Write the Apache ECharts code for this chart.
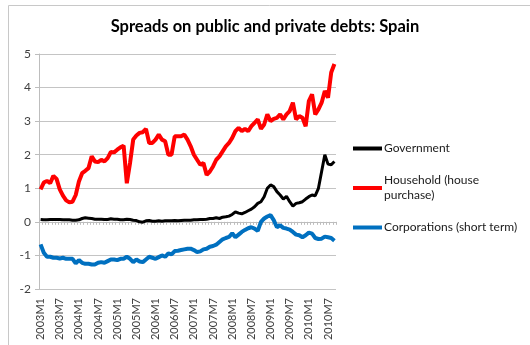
<!DOCTYPE html>
<html>
<head>
<meta charset="utf-8">
<script src="https://cdn.jsdelivr.net/npm/echarts@6/dist/echarts.min.js"></script>
<style>
  html, body { margin: 0; padding: 0; background: #fff; }
  #chart { width: 530px; height: 345px; }
</style>
</head>
<body>
<div id="chart"></div>
<script>
// Monthly observations, 2003M1 .. 2010M9
const years = [2003, 2004, 2005, 2006, 2007, 2008, 2009, 2010];
const monthCount = 93;
const months = [];
for (const y of years) {
  for (let m = 1; m <= 12; m++) months.push(y + 'M' + m);
}
const categories = months.slice(0, monthCount);

const seriesNames = ['Government', 'Household (house purchase)', 'Corporations (short term)'];

const government = [
  0.07, 0.06, 0.06, 0.07, 0.07, 0.07, 0.07, 0.06, 0.06, 0.06,
  0.05, 0.05, 0.06, 0.10, 0.12, 0.11, 0.10, 0.08, 0.08, 0.08,
  0.07, 0.07, 0.09, 0.08, 0.08, 0.06, 0.06, 0.08, 0.07, 0.05,
  0.04, 0.00, -0.01, 0.03, 0.04, 0.02, 0.02, 0.03, 0.02, 0.03,
  0.03, 0.03, 0.04, 0.03,
  0.04, 0.05, 0.05, 0.05, 0.06, 0.06, 0.07, 0.07, 0.08, 0.10,
  0.10, 0.12, 0.10, 0.14, 0.15, 0.17, 0.22,
  0.30, 0.26, 0.24, 0.28, 0.33, 0.38, 0.45, 0.55, 0.60, 0.75,
  1.00, 1.10, 1.05, 0.90, 0.80, 0.68, 0.76, 0.60, 0.47, 0.55,
  0.57, 0.60, 0.68, 0.75, 0.80, 0.78, 1.00, 1.50, 2.00, 1.72,
  1.70, 1.80
];

const household = [
  0.97, 1.17, 1.22, 1.15, 1.37, 1.28, 0.97, 0.78, 0.64, 0.58,
  0.60, 0.80, 1.20, 1.45, 1.52, 1.60, 1.95, 1.80, 1.78, 1.85,
  1.80, 1.90, 2.08, 2.07, 2.15, 2.22, 2.27, 1.15, 1.75, 2.45,
  2.57, 2.65, 2.67, 2.77, 2.35, 2.35, 2.45, 2.60, 2.45, 2.40,
  2.00, 2.00, 2.55, 2.55, 2.55, 2.60, 2.45, 2.25, 2.00, 1.85,
  1.70, 1.75, 1.40, 1.50, 1.65, 1.85, 1.95, 2.10, 2.25, 2.35,
  2.50, 2.70, 2.80, 2.70, 2.77, 2.70, 2.85, 2.95, 3.05, 2.77,
  2.90, 3.20, 3.00, 3.07, 3.10, 3.20, 3.05, 3.20, 3.30, 3.55,
  3.05, 3.15, 3.10, 2.85, 3.60, 3.80, 3.20, 3.35, 3.55, 3.90,
  3.70, 4.45, 4.70
];

const corporations = [
  -0.67, -0.92, -1.04, -1.04, -1.07, -1.07, -1.09, -1.07, -1.10, -1.10,
  -1.10, -1.24, -1.14, -1.22, -1.25, -1.25, -1.27, -1.27, -1.22, -1.20,
  -1.22, -1.17, -1.12, -1.12, -1.14, -1.10, -1.10, -1.04, -1.10, -1.20,
  -1.12, -1.18, -1.20, -1.12, -1.04, -1.07, -1.10, -1.05, -1.00, -1.04,
  -0.94, -0.97, -0.87,
  -0.86, -0.84, -0.82, -0.80, -0.80, -0.84, -0.90, -0.88, -0.82, -0.80,
  -0.74, -0.72, -0.68, -0.60, -0.52, -0.48, -0.45, -0.34, -0.46, -0.38,
  -0.30, -0.24, -0.19, -0.16, -0.20, -0.27, 0.00, 0.10, 0.16, 0.20,
  0.05, -0.16, -0.10, -0.18, -0.20, -0.23, -0.30, -0.38, -0.40, -0.46,
  -0.40, -0.32, -0.35, -0.48, -0.51, -0.50, -0.44, -0.46, -0.48, -0.56
];

const yTicks = { min: -2, max: 5, interval: 1 };

const FONT = 'Lato, "Liberation Sans", sans-serif';
const GRID_COLOR = '#c4c4c4';

const chart = echarts.init(document.getElementById('chart'), null, { renderer: 'canvas' });

const legendBase = {
  orient: 'vertical',
  padding: 0,
  icon: 'rect',
  itemWidth: 29,
  itemHeight: 4,
  selectedMode: false,
  textStyle: { fontFamily: FONT, fontSize: 12, color: '#1a1a1a', lineHeight: 15, padding: [0, 0, 0, -3] }
};

chart.setOption({
  animation: false,
  backgroundColor: '#fff',
  color: ['#000000', '#ff0000', '#0070c0'],
  title: {
    text: 'Spreads on public and private debts: Spain',
    left: 'center',
    top: 18,
    padding: [0, 0, 0, 8],
    textStyle: { fontFamily: FONT, fontSize: 16.5, fontWeight: 'bold', color: '#000' }
  },
  graphic: [{
    type: 'rect',
    shape: { x: 8.5, y: 5.5, width: 600, height: 400 },
    style: { fill: 'none', stroke: '#c8c8c8', lineWidth: 1 },
    silent: true
  }],
  legend: [
    Object.assign({}, legendBase, { data: [seriesNames[0]], left: 353, top: 141 }),
    Object.assign({}, legendBase, {
      data: [seriesNames[1]], left: 353, top: 165.5,
      formatter: () => 'Household (house\npurchase)',
      textStyle: Object.assign({}, legendBase.textStyle, { padding: [15, 0, 0, -3] })
    }),
    Object.assign({}, legendBase, { data: [seriesNames[2]], left: 353, top: 220 })
  ],
  grid: { left: 39, right: 194, top: 54, bottom: 56, containLabel: false },
  xAxis: [
    {
      // labels along the bottom edge
      type: 'category',
      data: categories,
      boundaryGap: true,
      axisLine: { show: false, onZero: false },
      axisTick: { show: false },
      axisLabel: {
        interval: 5,
        rotate: 90,
        margin: 9,
        fontFamily: FONT,
        fontSize: 11,
        color: '#404040'
      },
      splitLine: { show: false }
    },
    {
      // axis line with monthly ticks crossing at zero
      type: 'category',
      data: categories,
      position: 'bottom',
      boundaryGap: true,
      axisLine: { show: true, onZero: true, lineStyle: { color: '#bdbdbd', width: 1 } },
      axisTick: { show: true, interval: 0, length: 3, lineStyle: { color: '#bdbdbd' } },
      axisLabel: { show: false },
      splitLine: { show: false }
    }
  ],
  yAxis: {
    type: 'value',
    min: yTicks.min,
    max: yTicks.max,
    interval: yTicks.interval,
    axisLine: { show: true, lineStyle: { color: '#bdbdbd' } },
    axisTick: { show: true, length: 4, lineStyle: { color: '#bdbdbd' } },
    axisLabel: { fontFamily: FONT, fontSize: 12, color: '#404040', margin: 8 },
    splitLine: { show: true, lineStyle: { color: GRID_COLOR, width: 1 } }
  },
  series: [
    {
      name: seriesNames[0], type: 'line', data: government, xAxisIndex: 0,
      symbol: 'none', lineStyle: { width: 3, color: '#000000' }, z: 3
    },
    {
      name: seriesNames[1], type: 'line', data: household, xAxisIndex: 0,
      symbol: 'none', lineStyle: { width: 4, color: '#ff0000' }, z: 2
    },
    {
      name: seriesNames[2], type: 'line', data: corporations, xAxisIndex: 0,
      symbol: 'none', lineStyle: { width: 4, color: '#0070c0' }, z: 4
    }
  ]
});
</script>
</body>
</html>
